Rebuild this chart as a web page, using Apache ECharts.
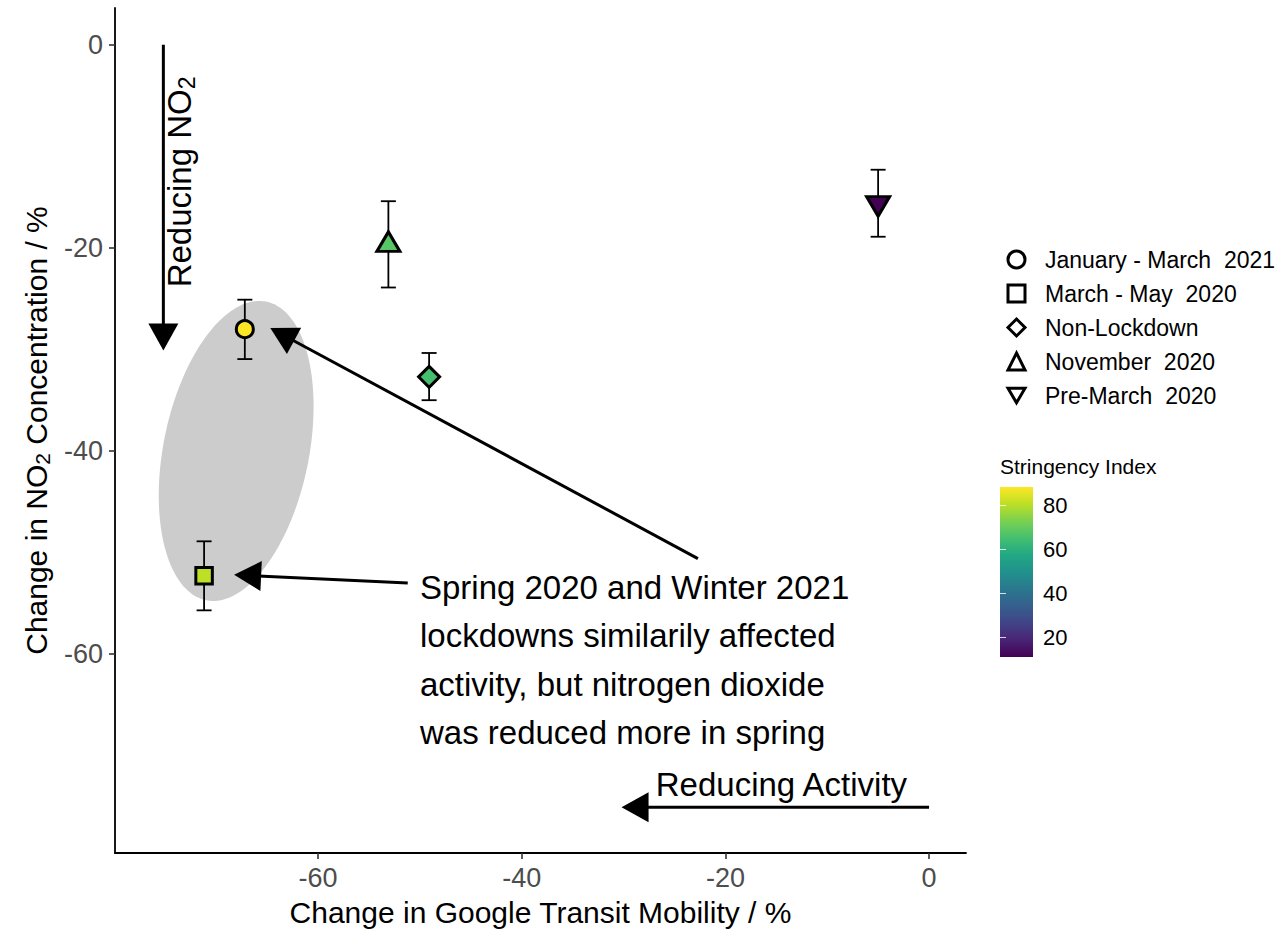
<!DOCTYPE html>
<html><head><meta charset="utf-8">
<script src="https://cdn.jsdelivr.net/npm/echarts@6/dist/echarts.min.js"></script>
<style>html,body{margin:0;padding:0;background:#fff}#chart{width:1284px;height:932px}</style>
</head><body><div id="chart"></div>
<script>
// ---------- data ----------
const categories = ['January - March  2021', 'March - May  2020', 'Non-Lockdown', 'November  2020', 'Pre-March  2020'];
const mobility   = [-67.2, -71.2, -49.1, -53.1, -5.0];
const no2Change  = [-28.0, -52.3, -32.7, -19.7, -15.6];
const no2Upper   = [-25.1, -48.9, -30.35, -15.4, -12.3];
const no2Lower   = [-30.95, -55.7, -35.0, -23.9, -18.9];
const stringency = [88.3, 80.6, 65, 68, 10.9];
const stringencyRange = [10.9, 88.3];
const xTicks = [-60, -40, -20, 0];
const yTicks = [-60, -40, -20, 0];
const stringencyTicks = [20, 40, 60, 80];

// annotation geometry (data coordinates)
const arrowFrom = [[-75.2, 0], [-22.7, -50.6], [-51.2, -53.0], [0, -75.1]];
const arrowTo   = [[-75.2, -30.1], [-64.7, -27.9], [-68.25, -52.2], [-30.2, -75.1]];
const ellipseCenter = [-68.05, -40.0];
const ellipseAxes = [15.0, 7.15];   // semi-major (near vertical), semi-minor
const ellipseTiltDeg = 11.3;
const noteText = [
  'Spring 2020 and Winter 2021\nlockdowns similarily affected\nactivity, but nitrogen dioxide\nwas reduced more in spring',
  'Reducing Activity',
  '{a|Reducing NO}{s|2}'
];
const notePos = [[-50.0, -60.6], [-14.5, -72.9], [-73.6, -13.5]];

// ---------- styles ----------
const FONT = '"Liberation Sans", Arial, sans-serif';
const viridis = ['#440154','#482475','#414487','#355f8d','#2a788e','#21918c','#22a884','#44bf70','#7ad151','#bddf26','#fde725'];
const symbolStyles = [
  {symbol: 'circle', size: 17, offset: [0, 0]},
  {symbol: 'rect', size: 16.5, offset: [0, 0]},
  {symbol: 'diamond', size: [21, 21], offset: [0, 0]},
  {symbol: 'triangle', size: [23, 19.5], offset: [0, -3.2]},
  {symbol: 'path://M0,0L10,0L5,8.66Z', size: [23, 19.5], offset: [0, 3.2]}
];
const noteStyles = [
  {fontSize: 33, lineHeight: 48.3, align: 'left', rotation: 0},
  {fontSize: 33, lineHeight: 36, align: 'center', rotation: 0},
  {fontSize: 33, lineHeight: 36, align: 'center', rotation: Math.PI / 2,
   rich: {a: {fontSize: 33, lineHeight: 37, fontFamily: FONT}, s: {fontSize: 23, lineHeight: 23, verticalAlign: 'bottom', fontFamily: FONT}}}
];

const chart = echarts.init(document.getElementById('chart'), null, {renderer: 'svg'});

const scatterSeries = categories.map((c, i) => ({
  type: 'scatter', name: c, xAxisIndex: 0, yAxisIndex: 0, z: 4,
  symbol: symbolStyles[i].symbol, symbolSize: symbolStyles[i].size, symbolOffset: symbolStyles[i].offset,
  itemStyle: {borderColor: '#000', borderWidth: 3, opacity: 1},
  emphasis: {disabled: true},
  data: [[mobility[i], no2Change[i], stringency[i]]]
}));

const option = {
  animation: false,
  textStyle: {fontFamily: FONT},
  title: {text: 'Stringency Index', left: 1000, top: 456, padding: 0,
    textStyle: {fontSize: 21, fontWeight: 'normal', color: '#000', fontFamily: FONT}},
  grid: [
    {left: 115, top: 8, width: 851, height: 849},
    {left: 1000, top: 487, width: 33, height: 170}
  ],
  xAxis: [
    {type: 'value', gridIndex: 0, min: -79.95, max: 3.63,
     axisLine: {show: true, onZero: false, lineStyle: {color: '#000', width: 1.8}},
     axisTick: {show: true, length: 6, customValues: xTicks, lineStyle: {color: '#333', width: 1.6}},
     axisLabel: {customValues: xTicks, fontSize: 27, color: '#4d4d4d', margin: 11, fontFamily: FONT},
     splitLine: {show: false},
     name: 'Change in Google Transit Mobility / %', nameLocation: 'middle', nameGap: 44,
     nameTextStyle: {fontSize: 30, color: '#000', fontFamily: FONT}},
    {type: 'value', gridIndex: 1, min: 0, max: 1, show: false}
  ],
  yAxis: [
    {type: 'value', gridIndex: 0, min: -79.6, max: 3.63,
     axisLine: {show: true, onZero: false, lineStyle: {color: '#000', width: 1.8}},
     axisTick: {show: true, length: 6, customValues: yTicks, lineStyle: {color: '#333', width: 1.6}},
     axisLabel: {customValues: yTicks, fontSize: 27, color: '#4d4d4d', margin: 12, fontFamily: FONT},
     splitLine: {show: false},
     name: '{a|Change in NO}{s|2}{a| Concentration / %}', nameLocation: 'middle', nameGap: 58, nameRotate: 90,
     nameTextStyle: {color: '#000', fontSize: 30, fontFamily: FONT,
       rich: {a: {fontSize: 30, lineHeight: 34, fontFamily: FONT, color: '#000'},
              s: {fontSize: 21, lineHeight: 21, verticalAlign: 'bottom', fontFamily: FONT, color: '#000'}}}},
    {type: 'value', gridIndex: 1, min: stringencyRange[0], max: stringencyRange[1], position: 'right', z: 10,
     axisLine: {show: false},
     axisTick: {show: true, inside: true, length: 6, customValues: stringencyTicks, lineStyle: {color: '#ffffff', width: 1, opacity: 0.8}},
     axisLabel: {customValues: stringencyTicks, fontSize: 22, color: '#000', margin: 10, fontFamily: FONT},
     splitLine: {show: false}},
    {type: 'value', gridIndex: 1, min: stringencyRange[0], max: stringencyRange[1], position: 'left', z: 10,
     axisLine: {show: false},
     axisTick: {show: true, inside: true, length: 6, customValues: stringencyTicks, lineStyle: {color: '#ffffff', width: 1, opacity: 0.8}},
     axisLabel: {show: false}, splitLine: {show: false}}
  ],
  visualMap: {type: 'continuous', show: false, dimension: 2, min: stringencyRange[0], max: stringencyRange[1],
    seriesIndex: [4, 5, 6, 7, 8], inRange: {color: viridis}},
  legend: {orient: 'vertical', left: 1006.5, top: 248, padding: 0, itemWidth: 17, itemHeight: 17, itemGap: 11,
    textStyle: {fontSize: 23, color: '#000', fontFamily: FONT, padding: [0, 0, 0, 15]},
    selectedMode: false,
    data: categories.map(c => ({name: c, itemStyle: {color: '#fff', borderColor: '#000', borderWidth: 3}}))},
  series: [
    // 0: ellipse
    {type: 'custom', xAxisIndex: 0, yAxisIndex: 0, z: 1, silent: true,
     data: [ellipseCenter],
     renderItem: (params, api) => {
       const th = ellipseTiltDeg * Math.PI / 180, pts = [];
       for (let k = 0; k < 160; k++) {
         const t = k / 160 * 2 * Math.PI;
         const u = ellipseAxes[0] * Math.cos(t), v = ellipseAxes[1] * Math.sin(t);
         pts.push(api.coord([api.value(0) + u * Math.sin(th) + v * Math.cos(th),
                             api.value(1) + u * Math.cos(th) - v * Math.sin(th)]));
       }
       return {type: 'polygon', shape: {points: pts}, style: {fill: '#cccccc'}};
     }},
    // 1: error bars
    {type: 'custom', xAxisIndex: 0, yAxisIndex: 0, z: 3, silent: true,
     data: mobility.map((x, i) => [x, no2Lower[i], no2Upper[i]]),
     renderItem: (params, api) => {
       const lo = api.coord([api.value(0), api.value(1)]), hi = api.coord([api.value(0), api.value(2)]);
       const cw = 7.5, st = {stroke: '#000', lineWidth: 1.8};
       return {type: 'group', children: [
         {type: 'line', shape: {x1: lo[0], y1: lo[1], x2: hi[0], y2: hi[1]}, style: st},
         {type: 'line', shape: {x1: lo[0] - cw, y1: lo[1], x2: lo[0] + cw, y2: lo[1]}, style: st},
         {type: 'line', shape: {x1: hi[0] - cw, y1: hi[1], x2: hi[0] + cw, y2: hi[1]}, style: st}
       ]};
     }},
    // 2: arrows
    {type: 'custom', xAxisIndex: 0, yAxisIndex: 0, z: 5, silent: true, clip: false,
     data: arrowFrom.map((f, i) => [f[0], f[1], arrowTo[i][0], arrowTo[i][1]]),
     renderItem: (params, api) => {
       const p1 = api.coord([api.value(0), api.value(1)]), p2 = api.coord([api.value(2), api.value(3)]);
       const dx = p2[0] - p1[0], dy = p2[1] - p1[1], len = Math.hypot(dx, dy);
       const ux = dx / len, uy = dy / len, hl = 27, hw = 15;
       const b = [p2[0] - ux * hl, p2[1] - uy * hl];
       return {type: 'group', children: [
         {type: 'line', shape: {x1: p1[0], y1: p1[1], x2: b[0] + ux * 3, y2: b[1] + uy * 3}, style: {stroke: '#000', lineWidth: 3}},
         {type: 'polygon', shape: {points: [p2, [b[0] - uy * hw, b[1] + ux * hw], [b[0] + uy * hw, b[1] - ux * hw]]}, style: {fill: '#000'}}
       ]};
     }},
    // 3: colour bar
    {type: 'custom', xAxisIndex: 1, yAxisIndex: 1, z: 2, silent: true,
     data: [[0, stringencyRange[0], 1, stringencyRange[1]]],
     renderItem: (params, api) => {
       const a = api.coord([api.value(0), api.value(3)]), b = api.coord([api.value(2), api.value(1)]);
       const stops = viridis.map((c, k) => ({offset: 1 - k / (viridis.length - 1), color: c})).reverse();
       return {type: 'rect', shape: {x: a[0], y: a[1], width: b[0] - a[0], height: b[1] - a[1]},
         style: {fill: new echarts.graphic.LinearGradient(0, 0, 0, 1, stops)}};
     }},
    ...scatterSeries,
    // 9: notes
    {type: 'custom', xAxisIndex: 0, yAxisIndex: 0, z: 6, silent: true, clip: false,
     data: notePos,
     renderItem: (params, api) => {
       const p = api.coord([api.value(0), api.value(1)]);
       const s = noteStyles[params.dataIndex];
       const style = {text: noteText[params.dataIndex], fontSize: s.fontSize, lineHeight: s.lineHeight,
         fontFamily: FONT, fill: '#000', align: s.align, verticalAlign: 'middle'};
       if (s.rich) style.rich = s.rich;
       return {type: 'text', x: p[0], y: p[1], rotation: s.rotation, style: style};
     }}
  ]
};
chart.setOption(option);
</script>
</body></html>
